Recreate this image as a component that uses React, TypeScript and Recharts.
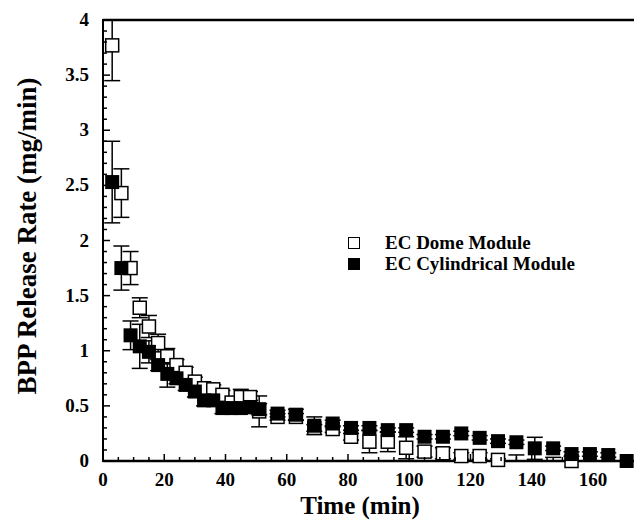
import { ScatterChart, Scatter, XAxis, YAxis, ErrorBar, Legend, ReferenceLine } from 'recharts'

// Release time points (min) and measured BPP release rates (mg/min)
const domeTimes = [3, 6, 9, 12, 15, 18, 21, 24, 27, 30, 33, 36, 39, 42, 45, 48, 51, 57, 63, 69, 75, 81, 87, 93, 99, 105, 111, 117, 123, 129, 135, 147, 153]
const domeRates = [3.77, 2.43, 1.75, 1.39, 1.22, 1.07, 0.95, 0.87, 0.8, 0.72, 0.66, 0.65, 0.6, 0.53, 0.58, 0.58, 0.45, 0.4, 0.4, 0.3, 0.29, 0.22, 0.175, 0.175, 0.12, 0.085, 0.07, 0.045, 0.045, 0.01, -0.03, -0.02, 0.0]
// [below, above] where the two differ
const domeErrors: (number | [number, number])[] = [[0.32, 0.23], 0.22, 0.15, 0.09, 0.1, 0.08, 0.07, 0.05, 0.05, 0.04, 0.04, 0.04, 0.04, 0.04, 0.07, 0.05, 0.14, 0.03, 0.03, 0.03, 0.03, 0.03, 0.1, 0.09, 0.1, 0.05, 0.05, 0.03, 0.03, 0.01, [0.03, 0.085], [0.02, 0.053], 0]

const cylTimes = [3, 6, 9, 12, 15, 18, 21, 24, 27, 30, 33, 36, 39, 42, 45, 48, 51, 57, 63, 69, 75, 81, 87, 93, 99, 105, 111, 117, 123, 129, 135, 141, 147, 153, 159, 165, 171]
const cylRates = [2.53, 1.75, 1.14, 1.04, 0.99, 0.87, 0.79, 0.75, 0.69, 0.63, 0.55, 0.55, 0.48, 0.48, 0.48, 0.49, 0.47, 0.43, 0.42, 0.32, 0.34, 0.3, 0.3, 0.28, 0.28, 0.22, 0.22, 0.25, 0.21, 0.18, 0.17, 0.115, 0.115, 0.063, 0.063, 0.054, 0.0]
const cylErrors = [0.37, 0.2, 0.13, 0.2, 0.1, 0.05, 0.12, 0.05, 0.05, 0.05, 0.05, 0.05, 0.05, 0.04, 0.04, 0.06, 0.05, 0.03, 0.05, 0.08, 0.03, 0.02, 0.02, 0.02, 0.02, 0.02, 0.02, 0.02, 0.02, 0.02, 0.02, 0.1, 0.02, 0.02, 0.02, 0.02, 0]

const xTicks = [0, 5, 10, 15, 20, 25, 30, 35, 40, 45, 50, 55, 60, 65, 70, 75, 80, 85, 90, 95, 100, 105, 110, 115, 120, 125, 130, 135, 140, 145, 150, 155, 160, 165, 170]
const yTicks = Array.from({ length: 41 }, (_, i) => i / 10)
const yLabels = ['0', '0.5', '1', '1.5', '2', '2.5', '3', '3.5', '4']

const seriesNames = ['EC Dome Module', 'EC Cylindrical Module']

const FONT = '"Liberation Serif", "Times New Roman", serif'
const AXIS_LEFT = 103
const PLOT_TOP = 20
const PLOT_BOTTOM = 461

const domeData = domeTimes.map((t, i) => ({ x: t, y: domeRates[i], err: domeErrors[i] }))
const domeShown = domeData.filter((d) => d.y >= 0)
// points below zero: only the part of the error bar above the axis shows
const domeBelow = domeData
  .filter((d) => d.y < 0)
  .map((d) => {
    const up = Array.isArray(d.err) ? d.err[1] : d.err
    return { x: d.x, y: 0, err: [0, d.y + up] }
  })
const cylData = cylTimes.map((t, i) => ({ x: t, y: cylRates[i], err: cylErrors[i] }))

const OpenSquare = (p: any) => (
  <rect x={p.cx - 6.5} y={p.cy - 6.5} width={13} height={13} fill="#fff" stroke="#000" strokeWidth={1.5} />
)
const FilledSquare = (p: any) => <rect x={p.cx - 7} y={p.cy - 7} width={14} height={14} fill="#000" />
const NoMark = () => <g />

const XTick = (p: any) => {
  const v = p.payload.value
  const major = v % 20 === 0
  return (
    <g>
      <line x1={p.x} x2={p.x} y1={p.y} y2={p.y - (major ? 7 : 4)} stroke="#000" strokeWidth={1.5} />
      {major && (
        <text x={p.x} y={p.y + 25} textAnchor="middle" fontFamily={FONT} fontWeight="bold" fontSize={19} fill="#000">
          {v}
        </text>
      )}
    </g>
  )
}

const YTick = (p: any) => {
  const idx = Math.round(p.payload.value * 10)
  const major = idx % 5 === 0
  return (
    <g>
      <line x1={AXIS_LEFT} x2={AXIS_LEFT + (major ? 7 : 4)} y1={p.y} y2={p.y} stroke="#000" strokeWidth={1.5} />
      {major && (
        <text x={AXIS_LEFT - 14} y={p.y + 6} textAnchor="end" fontFamily={FONT} fontWeight="bold" fontSize={19} fill="#000">
          {yLabels[idx / 5]}
        </text>
      )}
    </g>
  )
}

const LegendBox = () => (
  <div style={{ fontFamily: FONT, fontWeight: 'bold', fontSize: 19, color: '#000', lineHeight: '21px' }}>
    {seriesNames.map((name, i) => (
      <div key={name} style={{ display: 'flex', alignItems: 'center' }}>
        <span
          style={{
            display: 'inline-block',
            boxSizing: 'border-box',
            width: 12,
            height: 12,
            border: '1.5px solid #000',
            background: i === 0 ? '#fff' : '#000',
            marginRight: 25,
          }}
        />
        <span>{name}</span>
      </div>
    ))}
  </div>
)

export default function App() {
  return (
    <div style={{ position: 'absolute', left: 0, top: 0, width: 634, height: 531, background: '#fff' }}>
      <ScatterChart width={634} height={531} margin={{ top: PLOT_TOP, right: 0, bottom: 0, left: 0 }}>
        <XAxis
          type="number"
          dataKey="x"
          domain={[0, 173.4]}
          allowDataOverflow
          ticks={xTicks}
          interval={0}
          height={531 - PLOT_BOTTOM}
          tickSize={0}
          tickMargin={0}
          tickLine={false}
          tick={<XTick />}
          axisLine={{ stroke: '#000', strokeWidth: 2.5 }}
          label={{
            content: () => (
              <text x={360} y={514} textAnchor="middle" fontFamily={FONT} fontWeight="bold" fontSize={25} fill="#000">
                Time (min)
              </text>
            ),
          }}
        />
        <YAxis
          type="number"
          dataKey="y"
          domain={[0, 4]}
          ticks={yTicks}
          interval={0}
          width={AXIS_LEFT}
          tickSize={0}
          tickMargin={0}
          tickLine={false}
          tick={<YTick />}
          axisLine={false}
          label={{
            content: () => (
              <text
                x={27}
                y={236}
                transform="rotate(-90 27 236)"
                textAnchor="middle"
                dominantBaseline="central"
                fontFamily={FONT}
                fontWeight="bold"
                fontSize={27}
                fill="#000"
              >
                BPP Release Rate (mg/min)
              </text>
            ),
          }}
        />
        <ReferenceLine y={4} stroke="#000" strokeWidth={2.5} ifOverflow="visible" />
        <Scatter name="below" data={domeBelow} shape={<NoMark />} isAnimationActive={false} legendType="none">
          <ErrorBar dataKey="err" direction="y" width={8} stroke="#000" strokeWidth={1.5} isAnimationActive={false} />
        </Scatter>
        <Scatter name={seriesNames[0]} data={domeShown} shape={<OpenSquare />} isAnimationActive={false}>
          <ErrorBar dataKey="err" direction="y" width={8} stroke="#000" strokeWidth={1.5} isAnimationActive={false} />
        </Scatter>
        <Scatter name={seriesNames[1]} data={cylData} shape={<FilledSquare />} isAnimationActive={false}>
          <ErrorBar dataKey="err" direction="y" width={8} stroke="#000" strokeWidth={1.5} isAnimationActive={false} />
        </Scatter>
        <Legend
          layout="vertical"
          align="center"
          verticalAlign="middle"
          content={<LegendBox />}
          wrapperStyle={{ left: 348, top: 232, width: 'auto', height: 'auto' }}
        />
      </ScatterChart>
      {/* left frame edge */}
      <div
        style={{
          position: 'absolute',
          left: AXIS_LEFT - 1.25,
          top: PLOT_TOP - 1.25,
          width: 2.5,
          height: PLOT_BOTTOM - PLOT_TOP + 2.5,
          background: '#000',
        }}
      />
    </div>
  )
}
